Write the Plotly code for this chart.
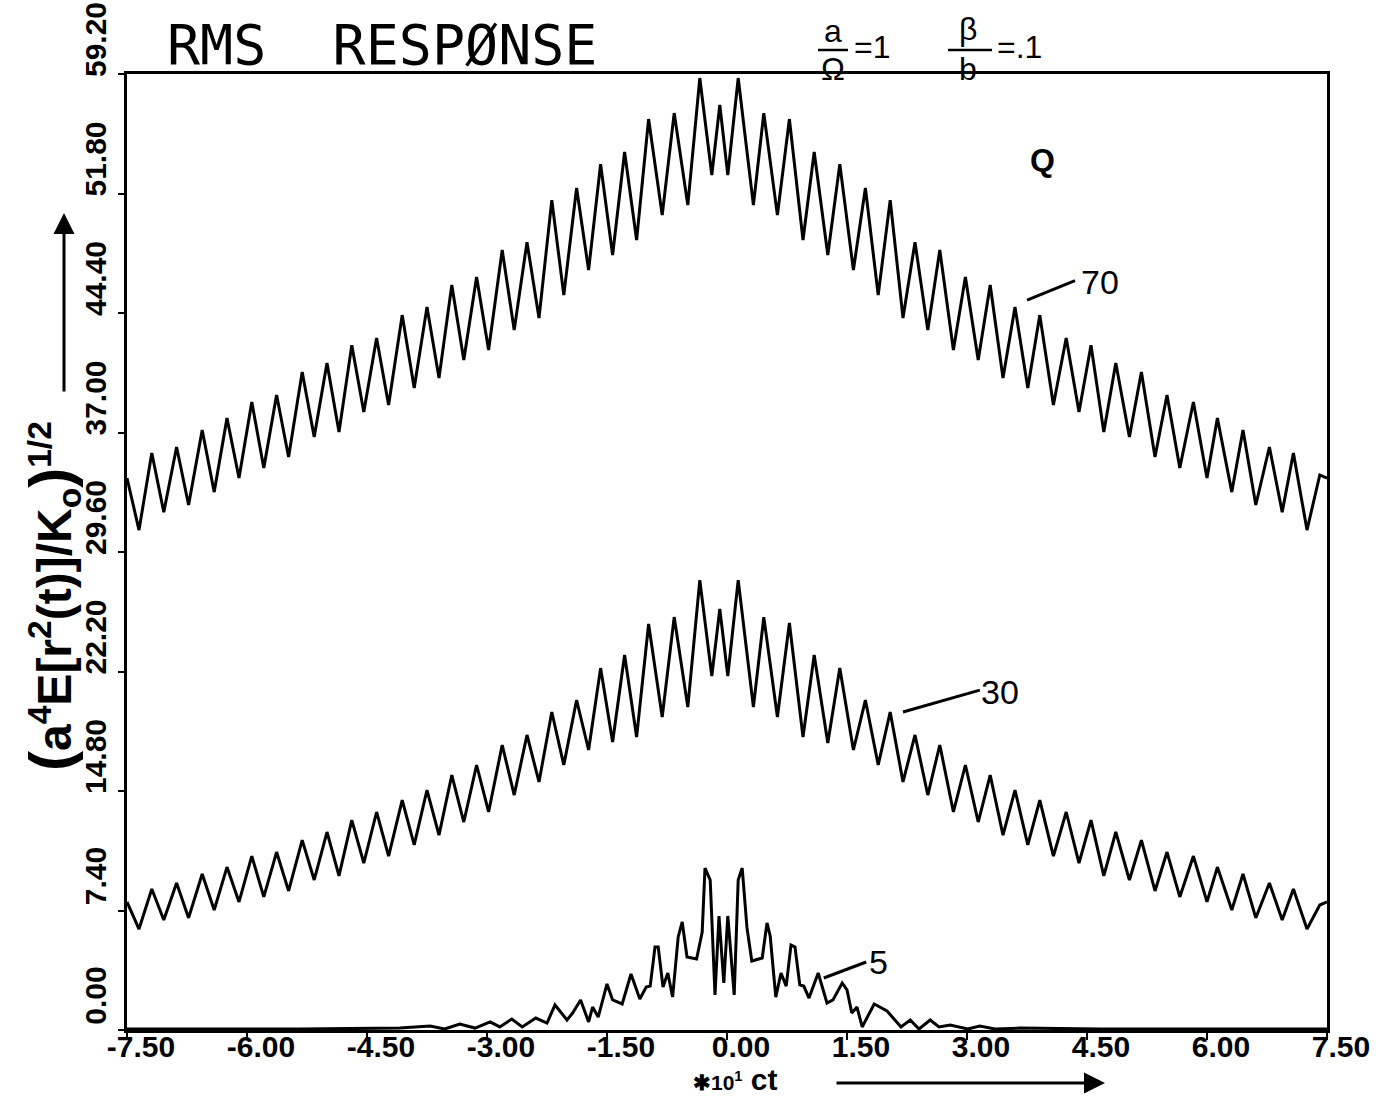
import plotly.graph_objects as go

# ---------------- data ----------------
X_OSC = [-7.5, -7.35, -7.19, -7.04, -6.88, -6.73, -6.56, -6.41, -6.25, -6.10,
         -5.94, -5.79, -5.63, -5.48, -5.31, -5.16, -5.00, -4.85, -4.69, -4.54,
         -4.38, -4.23, -4.06, -3.91, -3.75, -3.60, -3.44, -3.29, -3.13, -2.98,
         -2.81, -2.66, -2.50, -2.35, -2.19, -2.04, -1.88, -1.73, -1.58, -1.43,
         -1.28, -1.13, -0.98, -0.81, -0.66, -0.49, -0.34, -0.19, -0.09,
         0.01, 0.14, 0.33, 0.46, 0.63, 0.78, 0.95, 1.09, 1.26, 1.41,
         1.58, 1.73, 1.89, 2.04, 2.20, 2.35, 2.51, 2.66, 2.83, 2.98,
         3.14, 3.29, 3.45, 3.60, 3.76, 3.91, 4.08, 4.24, 4.40, 4.55,
         4.71, 4.86, 5.03, 5.18, 5.35, 5.50, 5.66, 5.83, 6.00, 6.13,
         6.31, 6.45, 6.61, 6.78, 6.94, 7.08, 7.25, 7.41, 7.5]

Y_Q70 = [34.18, 30.96, 35.73, 32.07, 36.10, 32.51, 37.15, 33.31, 37.89, 34.18,
         38.89, 34.80, 39.32, 35.48, 40.74, 36.72, 41.30, 37.03, 42.41, 38.27,
         42.85, 38.70, 44.27, 39.75, 44.77, 40.37, 46.13, 41.49, 46.63, 42.11,
         48.30, 43.34, 48.79, 44.09, 51.39, 45.51, 52.14, 47.06, 53.62, 47.99,
         54.37, 48.92, 56.41, 50.46, 56.78, 51.08, 58.95, 52.94, 57.28,
         52.94, 58.95, 51.08, 56.78, 50.46, 56.41, 48.92, 54.37, 47.99, 53.62,
         47.06, 52.14, 45.51, 51.39, 44.09, 48.79, 43.34, 48.30, 42.11, 46.63,
         41.49, 46.13, 40.37, 44.77, 39.75, 44.27, 38.70, 42.85, 38.27, 42.41,
         37.03, 41.30, 36.72, 40.74, 35.48, 39.32, 34.80, 38.89, 34.18, 37.89,
         33.31, 37.15, 32.51, 36.10, 32.07, 35.73, 30.96, 34.37, 34.18]

Y_Q30 = [7.93, 6.25, 8.73, 6.81, 9.10, 6.94, 9.66, 7.43, 10.09, 7.93,
         10.77, 8.24, 11.02, 8.61, 11.76, 9.29, 12.26, 9.54, 13.00, 10.34,
         13.50, 10.77, 14.24, 11.46, 14.86, 12.07, 15.79, 12.88, 16.41, 13.50,
         17.65, 14.55, 18.27, 15.36, 19.69, 16.41, 20.43, 17.34, 22.41, 17.83,
         23.22, 18.14, 25.14, 19.38, 25.57, 20.00, 27.86, 21.92, 26.07,
         21.92, 27.86, 20.00, 25.57, 19.38, 25.20, 18.14, 23.22, 17.77, 22.41,
         17.34, 20.43, 16.41, 19.69, 15.36, 18.27, 14.55, 17.65, 13.50, 16.41,
         12.88, 15.79, 12.07, 14.86, 11.46, 14.24, 10.77, 13.50, 10.34, 13.00,
         9.54, 12.26, 9.29, 11.76, 8.61, 11.02, 8.24, 10.77, 7.93, 10.09,
         7.43, 9.66, 6.94, 9.10, 6.81, 8.73, 6.25, 7.74, 7.93]

X_Q5 = [-7.5, -5.34, -4.09, -3.71, -3.53, -3.34, -3.15, -2.96, -2.84, -2.69,
        -2.56, -2.39, -2.25, -2.15, -2.00, -1.93, -1.83, -1.73, -1.68, -1.61,
        -1.50, -1.43, -1.31, -1.20, -1.09, -1.01, -0.96, -0.90, -0.86, -0.80,
        -0.74, -0.68, -0.61, -0.56, -0.50, -0.38, -0.31, -0.275, -0.21, -0.15,
        -0.10, -0.04, 0.01, 0.09, 0.14, 0.19, 0.25, 0.31, 0.44, 0.50,
        0.54, 0.61, 0.675, 0.74, 0.80, 0.85, 0.91, 0.96, 1.025, 1.14,
        1.25, 1.325, 1.44, 1.50, 1.56, 1.625, 1.69, 1.84, 2.00, 2.175,
        2.29, 2.40, 2.54, 2.65, 2.79, 3.01, 3.16, 3.35, 3.66, 4.66, 7.5]

Y_Q5 = [0.06, 0.06, 0.12, 0.25, 0.06, 0.37, 0.12, 0.50, 0.19, 0.68,
        0.19, 0.74, 0.43, 1.55, 0.62, 1.05, 1.86, 0.50, 1.42, 0.80,
        2.85, 1.86, 1.61, 3.47, 1.92, 2.66, 2.72, 5.14, 5.14, 2.66,
        3.53, 2.04, 5.76, 6.69, 4.52, 4.40, 6.07, 10.03, 9.29, 2.17,
        7.06, 2.91, 7.06, 2.17, 9.29, 10.03, 6.32, 4.27, 4.46, 6.63,
        5.82, 2.04, 3.53, 2.72, 5.26, 5.14, 2.79, 2.72, 1.98, 3.53,
        1.67, 1.86, 2.91, 2.48, 1.05, 1.42, 0.19, 1.61, 1.18, 0.19,
        0.62, 0.06, 0.62, 0.19, 0.31, 0.06, 0.25, 0.06, 0.12, 0.06, 0.06]

X_TICKS = [-7.5, -6.0, -4.5, -3.0, -1.5, 0.0, 1.5, 3.0, 4.5, 6.0, 7.5]
X_TICK_TEXT = ["-7.50", "-6.00", "-4.50", "-3.00", "-1.50", "0.00",
               "1.50", "3.00", "4.50", "6.00", "7.50"]
Y_TICKS = [0.0, 7.4, 14.8, 22.2, 29.6, 37.0, 44.4, 51.8, 59.2]
Y_TICK_TEXT = ["0.00", "7.40", "14.80", "22.20", "29.60", "37.00",
               "44.40", "51.80", "59.20"]

CURVE_LABELS = ["70", "30", "5"]
LABEL_POS = [(4.66, 46.3), (3.41, 20.93), (1.89, 4.21)]
LEADERS = [((3.75, 45.2), (4.35, 46.4)),
           ((2.20, 19.69), (3.16, 21.05)),
           ((1.21, 3.22), (1.74, 4.21))]

# ---------------- figure ----------------
fig = go.Figure()
for xs, ys in [(X_OSC, Y_Q70), (X_OSC, Y_Q30), (X_Q5, Y_Q5)]:
    fig.add_trace(go.Scatter(x=xs, y=ys, mode="lines",
                             line=dict(color="black", width=3),
                             hoverinfo="skip"))

tick_font = dict(family="Liberation Sans Narrow, Liberation Sans, Arial",
                 size=30, color="black", weight="bold")

fig.update_layout(
    width=1382, height=1098,
    margin=dict(l=127, r=55, t=74, b=68, autoexpand=False),
    paper_bgcolor="white", plot_bgcolor="white",
    showlegend=False,
    xaxis=dict(range=[-7.5, 7.5], tickvals=X_TICKS, ticktext=X_TICK_TEXT,
               ticks="outside", ticklen=7, tickwidth=2, tickcolor="black",
               showline=True, linecolor="black", linewidth=3, mirror=True,
               showgrid=False, zeroline=False, tickfont=tick_font,
               ticklabelshift=14, ticklabelstandoff=-19,
               ticklabeloverflow="allow", automargin=False),
    yaxis=dict(range=[0, 59.2], tickvals=Y_TICKS, ticktext=Y_TICK_TEXT,
               ticks="outside", ticklen=6, tickwidth=2, tickcolor="black",
               showline=True, linecolor="black", linewidth=3, mirror=True,
               showgrid=False, zeroline=False, tickfont=tick_font,
               tickangle=-90, ticklabelshift=-30, ticklabelstandoff=0,
               ticklabeloverflow="allow", automargin=False),
)


def px_x(px):
    return (px - 127) / 1200


def px_y(py):
    return (1030 - py) / 956


ann = []
# title
ann.append(dict(text="RMS  RESPØNSE", xref="paper", yref="paper",
                x=px_x(165), y=px_y(45), xanchor="left", yanchor="middle",
                showarrow=False,
                font=dict(family="DejaVu Sans Mono", size=55, color="black")))
# parameter fractions
frac_font = dict(family="Liberation Sans, Arial", size=32, color="black")
for txt, cx, cy, xa in [("a", 833, 31, "center"), ("Ω", 833, 69, "center"),
                        ("=1", 852, 47, "left"), ("β", 968, 29, "center"),
                        ("b", 968, 69, "center"), ("=.1", 995, 47, "left")]:
    ann.append(dict(text=txt, x=px_x(cx), y=px_y(cy), xref="paper",
                    yref="paper", xanchor=xa, yanchor="middle",
                    showarrow=False, font=frac_font))
# y title
ann.append(dict(text="<span style='font-size:60px'>(</span>a<sup>4</sup>E[r<sup>2</sup>(t)]/K<sub>o</sub>"
                     "<span style='font-size:60px'>)</span><sup>1/2</sup>",
                xref="paper", yref="paper", x=px_x(52), y=px_y(596),
                xanchor="center", yanchor="middle",
                textangle=-90, showarrow=False,
                font=dict(family="Liberation Sans, Arial", size=48,
                          color="black", weight="bold")))
# y arrow
ann.append(dict(text="", xref="paper", yref="paper", x=px_x(64),
                y=px_y(213), ax=0, ay=180, axref="pixel", ayref="pixel",
                showarrow=True, arrowhead=2, arrowsize=1.4, arrowwidth=3,
                arrowcolor="black"))
# x title and arrow
ann.append(dict(text="<span style='font-size:21px'>✱10<sup>1</sup></span> ct",
                xref="paper", yref="paper",
                x=px_x(736), y=px_y(1079), xanchor="center", yanchor="middle",
                showarrow=False,
                font=dict(family="Liberation Sans, Arial", size=30,
                          color="black", weight="bold")))
ann.append(dict(text="", xref="paper", yref="paper", x=px_x(1105),
                y=px_y(1083), ax=-270, ay=0, axref="pixel", ayref="pixel",
                showarrow=True, arrowhead=2, arrowsize=1.4, arrowwidth=3,
                arrowcolor="black"))
# curve labels
lab_font = dict(family="Liberation Sans, Arial", size=34, color="black")
for t, (lx, ly) in zip(CURVE_LABELS, LABEL_POS):
    ann.append(dict(text=t, x=lx, y=ly, xref="x", yref="y",
                    xanchor="center", yanchor="middle",
                    showarrow=False, font=lab_font))
ann.append(dict(text="Q", x=3.94, y=53.87, xref="x", yref="y",
                xanchor="center", yanchor="middle", showarrow=False,
                font=dict(family="Liberation Sans, Arial", size=32,
                          color="black", weight="bold")))
fig.update_layout(annotations=ann)

shapes = []
for (x0, y0), (x1, y1) in LEADERS:
    shapes.append(dict(type="line", xref="x", yref="y", x0=x0, y0=y0,
                       x1=x1, y1=y1, line=dict(color="black", width=3)))
shapes.append(dict(type="line", xref="paper", yref="paper", x0=px_x(818),
                   x1=px_x(848), y0=px_y(50), y1=px_y(50),
                   line=dict(color="black", width=2.5)))
shapes.append(dict(type="line", xref="paper", yref="paper", x0=px_x(948),
                   x1=px_x(992), y0=px_y(50), y1=px_y(50),
                   line=dict(color="black", width=2.5)))
fig.update_layout(shapes=shapes)

fig.write_html("out.html")
